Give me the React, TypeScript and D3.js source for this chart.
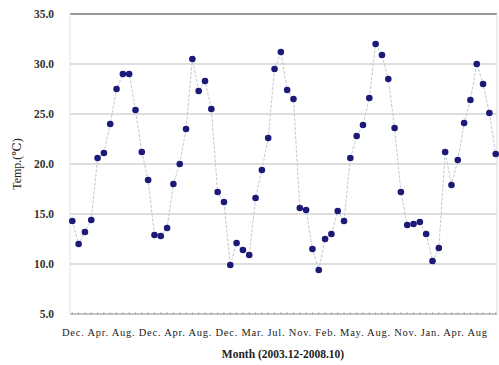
import React from "react";
import * as d3 from "d3";

const temps: number[] = [
  14.3, 12.0, 13.2, 14.4, 20.6, 21.1, 24.0, 27.5, 29.0, 29.0, 25.4, 21.2,
  18.4, 12.9, 12.8, 13.6, 18.0, 20.0, 23.5, 30.5, 27.3, 28.3, 25.5, 17.2,
  16.2, 9.9, 12.1, 11.4, 10.9, 16.6, 19.4, 22.6, 29.5, 31.2, 27.4, 26.5,
  15.6, 15.4, 11.5, 9.4, 12.5, 13.0, 15.3, 14.3, 20.6, 22.8, 23.9, 26.6,
  32.0, 30.9, 28.5, 23.6, 17.2, 13.9, 14.0, 14.2, 13.0, 10.3, 11.6, 21.2,
  17.9, 20.4, 24.1, 26.4, 30.0, 28.0, 25.1, 21.0,
];

const monthLabels: string[] = [
  "Dec.", "Apr.", "Aug.", "Dec.", "Apr.", "Aug.", "Dec.", "Mar.", "Jul.",
  "Nov.", "Feb.", "May.", "Aug.", "Nov.", "Jan.", "Apr.", "Aug",
];

const yTicks: number[] = [5, 10, 15, 20, 25, 30, 35];

export default function App() {
  const W = 499, H = 365;
  const left = 70, right = 497, top = 14, bottom = 314;
  const y = d3.scaleLinear().domain([5, 35]).range([bottom, top]);
  const x = d3.scaleLinear().domain([0, temps.length - 1]).range([72.3, 495.7]);
  const line = d3.line<number>().x((_, i) => x(i)).y((d) => y(d));
  const font = "'Liberation Serif', 'DejaVu Serif', serif";

  return (
    <svg width={W} height={H} style={{ position: "absolute", left: 0, top: 0, background: "#fff" }}>
      {yTicks.map((t) => (
        <line key={t} x1={left} x2={right} y1={y(t)} y2={y(t)}
          stroke={t === 35 ? "#9a9a9a" : t === 5 ? "#8a8a8a" : "#bdbdbd"}
          strokeWidth={t === 35 ? 2 : 1.2} />
      ))}
      <line x1={left} x2={left} y1={top} y2={bottom} stroke="#e2e2e2" />
      <line x1={right} x2={right} y1={top} y2={bottom} stroke="#dcdcdc" />
      {temps.map((_, i) => (
        <line key={"t" + i} x1={x(i)} x2={x(i)} y1={bottom - 2} y2={bottom + 1} stroke="#aaa" strokeWidth={0.8} />
      ))}
      {yTicks.map((t) => (
        <text key={"l" + t} x={54} y={y(t) + 4} textAnchor="end" fontFamily={font}
          fontWeight="bold" fontSize={11.5} fill="#333">{t.toFixed(1)}</text>
      ))}
      <text transform={`translate(21,164) rotate(-90)`} textAnchor="middle" fontFamily={font}
        fontSize={12} fill="#222">Temp.(℃)</text>
      <path d={line(temps) || ""} fill="none" stroke="#c4c7d4" strokeWidth={1} strokeDasharray="3,1.5" />
      {temps.map((v, i) => (
        <circle key={"c" + i} cx={x(i)} cy={y(v)} r={3.3} fill="#1c1a78" />
      ))}
      <text x={62} y={336} textAnchor="start" fontFamily={font} fontSize={10.5}
        textLength={425} lengthAdjust="spacing" fill="#222">{monthLabels.join(" ")}</text>
      <text x={283} y={358} textAnchor="middle" fontFamily={font} fontWeight="bold"
        fontSize={11.5} fill="#222">Month (2003.12-2008.10)</text>
    </svg>
  );
}
